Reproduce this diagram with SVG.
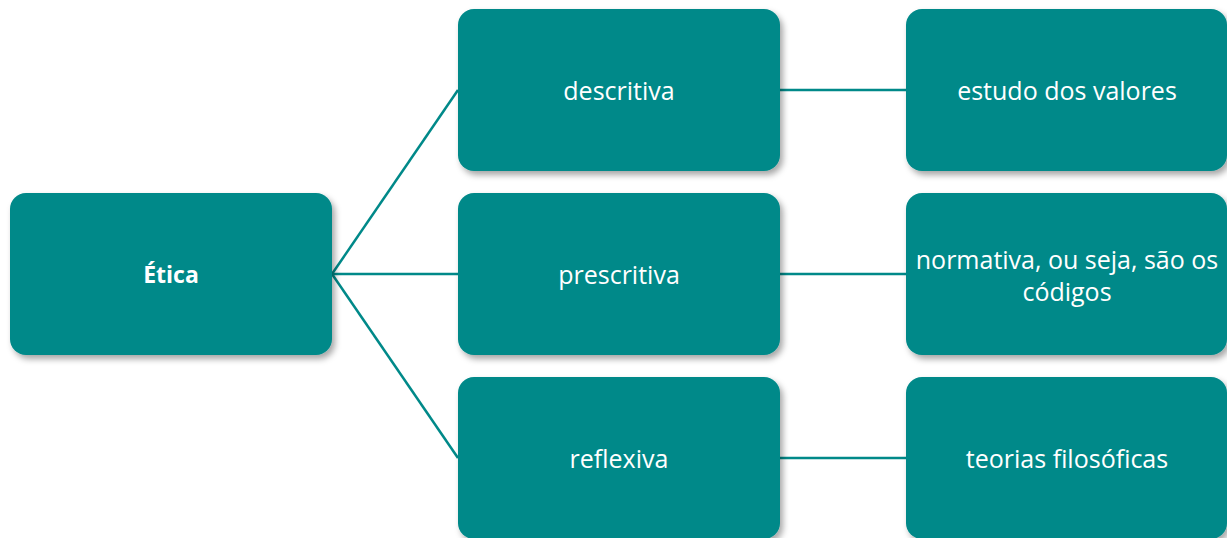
<svg xmlns="http://www.w3.org/2000/svg" width="1227" height="538" viewBox="0 0 1227 538">
<defs>
<filter id="sh" x="-10%" y="-10%" width="130%" height="130%">
<feDropShadow dx="3" dy="4" stdDeviation="3" flood-color="#000" flood-opacity="0.35"/>
</filter>
<style>
.box{fill:#008989;filter:url(#sh)}
.t{fill:#fff;font-family:"Open Sans","Noto Sans",sans-serif;font-size:25px;text-anchor:middle;dominant-baseline:central}
.b{font-weight:bold;font-size:23px}
.c{stroke:#008989;stroke-width:2.5;fill:none}
</style>
</defs>
<g id="connectors">
<line class="c" x1="332" y1="274" x2="458" y2="90"/>
<line class="c" x1="332" y1="274" x2="458" y2="274"/>
<line class="c" x1="332" y1="274" x2="458" y2="458"/>
<line class="c" x1="780" y1="90" x2="906" y2="90"/>
<line class="c" x1="780" y1="274" x2="906" y2="274"/>
<line class="c" x1="780" y1="458" x2="906" y2="458"/>
</g>
<g id="etica"><rect class="box" x="10" y="193" width="322" height="162" rx="16"/><text class="t b" x="171" y="274">Ética</text></g>
<g id="descritiva"><rect class="box" x="458" y="9" width="322" height="162" rx="16"/><text class="t" x="619" y="90">descritiva</text></g>
<g id="prescritiva"><rect class="box" x="458" y="193" width="322" height="162" rx="16"/><text class="t" x="619" y="274">prescritiva</text></g>
<g id="reflexiva"><rect class="box" x="458" y="377" width="322" height="162" rx="16"/><text class="t" x="619" y="458">reflexiva</text></g>
<g id="valores"><rect class="box" x="906" y="9" width="321" height="162" rx="16"/><text class="t" x="1067" y="90">estudo dos valores</text></g>
<g id="normativa"><rect class="box" x="906" y="193" width="321" height="162" rx="16"/><text class="t" x="1067" y="259">normativa, ou seja, são os</text><text class="t" x="1067" y="291">códigos</text></g>
<g id="teorias"><rect class="box" x="906" y="377" width="321" height="162" rx="16"/><text class="t" x="1067" y="458">teorias filosóficas</text></g>
</svg>
